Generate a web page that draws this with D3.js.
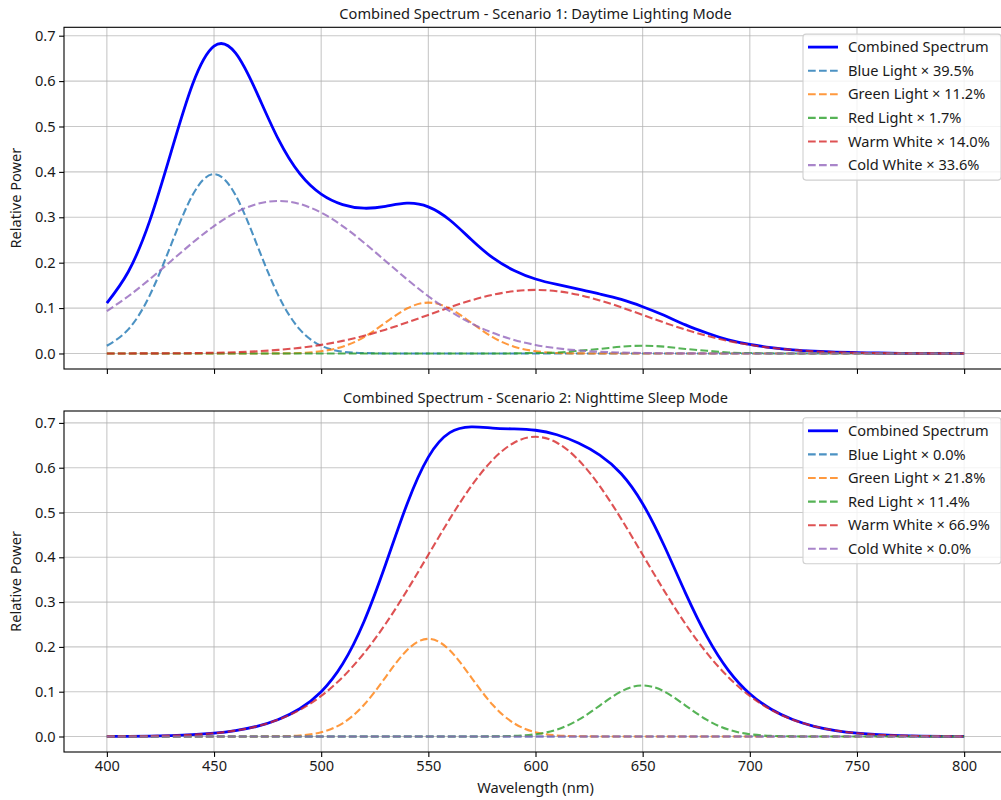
<!DOCTYPE html>
<html>
<head>
<meta charset="utf-8">
<script src="https://cdn.jsdelivr.net/npm/d3@7"></script>
<style>
  html, body { margin: 0; padding: 0; background: #fff; }
  svg { display: block; font-family: "Noto Sans", "Open Sans", sans-serif; }
</style>
</head>
<body>
<svg id="chart" width="1001" height="800"></svg>
<script>
// ---------------- DATA ----------------
const wavelengths = [400,410,420,430,440,450,460,470,480,490,500,510,520,530,540,550,560,570,580,590,600,
                     610,620,630,640,650,660,670,680,690,700,710,720,730,740,750,760,770,780,790,800];

const xTicks = [400, 450, 500, 550, 600, 650, 700, 750, 800];
const yTicks = [0.0, 0.1, 0.2, 0.3, 0.4, 0.5, 0.6, 0.7];

const seriesNames = ["Combined Spectrum", "Blue Light", "Green Light", "Red Light", "Warm White", "Cold White"];

// Scenario 1: Daytime Lighting Mode
const s1Title = "Combined Spectrum - Scenario 1: Daytime Lighting Mode";
const s1Weights = ["39.5%", "11.2%", "1.7%", "14.0%", "33.6%"];
const s1Combined = [0.111,0.180,0.292,0.444,0.593,0.677,0.662,0.574,0.472,0.396,0.351,0.328,0.320,0.324,0.331,0.323,0.294,0.251,0.211,0.183,0.164,
                    0.152,0.142,0.131,0.119,0.103,0.084,0.063,0.045,0.030,0.020,0.013,0.008,0.005,0.003,0.002,0.001,0.0004,0.0002,0.0001,0.0];
const s1Blue  = [0.017,0.053,0.128,0.240,0.349,0.395,0.349,0.240,0.128,0.053,0.017,0.004,0.001,0.0001,0,0,0,0,0,0,0,
                 0,0,0,0,0,0,0,0,0,0,0,0,0,0,0,0,0,0,0,0];
const s1Green = [0,0,0,0,0,0,0,0,0.0002,0.001,0.005,0.015,0.036,0.068,0.099,0.112,0.099,0.068,0.036,0.015,0.005,
                 0.001,0.0002,0,0,0,0,0,0,0,0,0,0,0,0,0,0,0,0,0,0];
const s1Red   = [0,0,0,0,0,0,0,0,0,0,0,0,0,0,0,0,0,0,0,0.0002,0.001,
                 0.002,0.006,0.010,0.015,0.017,0.015,0.010,0.006,0.002,0.001,0.0002,0,0,0,0,0,0,0,0,0];
const s1Warm  = [0.0,0.0001,0.0002,0.0004,0.0008,0.0016,0.0028,0.0048,0.0079,0.0124,0.0189,0.0277,0.0389,0.0525,0.0682,0.0849,0.1017,0.1169,0.1292,0.1372,0.140,
                 0.1372,0.1292,0.1169,0.1017,0.0849,0.0682,0.0525,0.0389,0.0277,0.0189,0.0124,0.0079,0.0048,0.0028,0.0016,0.0008,0.0004,0.0002,0.0001,0.0];
const s1Cold  = [0.0934,0.1261,0.1636,0.2038,0.244,0.2807,0.3102,0.3293,0.336,0.3293,0.3102,0.2807,0.244,0.2038,0.1636,0.1261,0.0934,0.0665,0.0455,0.0299,0.0188,
                 0.0114,0.0067,0.0037,0.002,0.001,0.0005,0.0002,0.0001,0,0,0,0,0,0,0,0,0,0,0,0];

// Scenario 2: Nighttime Sleep Mode
const s2Title = "Combined Spectrum - Scenario 2: Nighttime Sleep Mode";
const s2Weights = ["0.0%", "21.8%", "11.4%", "66.9%", "0.0%"];
const s2Combined = [0.0002,0.0005,0.001,0.0021,0.004,0.0074,0.0132,0.0227,0.038,0.0619,0.1001,0.1619,0.2568,0.3833,0.5181,0.6237,0.6782,0.691,0.6886,0.6866,0.6836,
                    0.6736,0.655,0.628,0.5864,0.5197,0.4263,0.3202,0.223,0.1478,0.0955,0.0608,0.0378,0.0227,0.0132,0.0074,0.004,0.0021,0.001,0.0005,0.0002];
const s2Blue  = [0,0,0,0,0,0,0,0,0,0,0,0,0,0,0,0,0,0,0,0,0,
                 0,0,0,0,0,0,0,0,0,0,0,0,0,0,0,0,0,0,0,0];
const s2Green = [0,0,0,0,0,0,0,0,0.0005,0.0024,0.0096,0.0295,0.0708,0.1322,0.1924,0.218,0.1924,0.1322,0.0708,0.0295,0.0096,
                 0.0024,0.0005,0.0001,0,0,0,0,0,0,0,0,0,0,0,0,0,0,0,0,0];
const s2Red   = [0,0,0,0,0,0,0,0,0,0,0,0,0,0,0,0,0,0,0.0003,0.0013,0.005,
                 0.0154,0.037,0.0691,0.1006,0.114,0.1006,0.0691,0.037,0.0154,0.005,0.0013,0.0003,0,0,0,0,0,0,0,0];
const s2Warm  = [0.0002,0.0005,0.001,0.0021,0.004,0.0074,0.0132,0.0227,0.0375,0.0595,0.0905,0.1324,0.186,0.2511,0.3257,0.4057,0.4858,0.5588,0.6175,0.6558,0.669,
                 0.6558,0.6175,0.5588,0.4858,0.4057,0.3257,0.2511,0.186,0.1324,0.0905,0.0595,0.0375,0.0227,0.0132,0.0074,0.004,0.0021,0.001,0.0005,0.0002];
const s2Cold  = [0,0,0,0,0,0,0,0,0,0,0,0,0,0,0,0,0,0,0,0,0,
                 0,0,0,0,0,0,0,0,0,0,0,0,0,0,0,0,0,0,0,0];

// ---------------- STYLE ----------------
const combinedColor = "#0000ff";
const componentColors = ["#1f77b4", "#ff7f0e", "#2ca02c", "#d62728", "#9467bd"];
const textColor = "#1a1a1a";
const FS = 14.6;

const svg = d3.select("#chart");

const x = d3.scaleLinear().domain([380, 820]).range([64, 1007]);

function drawPanel(cfg) {
  const { top, bottom, yDomain, title, combined, comps, weights, showXLabels } = cfg;
  const y = d3.scaleLinear().domain(yDomain).range([bottom, top]);
  const g = svg.append("g");

  const clipId = "clip" + Math.round(top);
  svg.append("clipPath").attr("id", clipId)
    .append("rect").attr("x", 64).attr("y", top).attr("width", 1007 - 64).attr("height", bottom - top);

  // grid
  const grid = g.append("g").attr("stroke", "#b0b0b0").attr("stroke-opacity", 0.7).attr("stroke-width", 1.1);
  xTicks.forEach(t => grid.append("line").attr("x1", x(t)).attr("x2", x(t)).attr("y1", top).attr("y2", bottom));
  yTicks.forEach(t => grid.append("line").attr("x1", 64).attr("x2", 1007).attr("y1", y(t)).attr("y2", y(t)));

  // lines
  const line = d3.line()
    .x((d, i) => x(wavelengths[i]))
    .y(d => y(d))
    .curve(d3.curveNatural);
  const plot = g.append("g").attr("clip-path", `url(#${clipId})`);
  plot.append("path").datum(combined)
    .attr("d", line).attr("fill", "none")
    .attr("stroke", combinedColor).attr("stroke-width", 2.8)
    .attr("stroke-linejoin", "round").attr("stroke-linecap", "butt");
  comps.forEach((arr, k) => {
    plot.append("path").datum(arr)
      .attr("d", line).attr("fill", "none")
      .attr("stroke", componentColors[k]).attr("stroke-opacity", 0.8)
      .attr("stroke-width", 2.1).attr("stroke-dasharray", "7.7,3.3");
  });

  // axes
  const xAxis = d3.axisBottom(x).tickValues(xTicks).tickSize(4.9).tickPadding(3.5)
    .tickFormat(showXLabels ? d3.format("d") : () => "");
  const xg = g.append("g").attr("transform", `translate(0,${bottom})`).call(xAxis);
  const yAxis = d3.axisLeft(y).tickValues(yTicks).tickSize(4.9).tickPadding(3.5).tickFormat(d3.format(".1f"));
  const yg = g.append("g").attr("transform", `translate(64,0)`).call(yAxis);
  [xg, yg].forEach(ax => {
    ax.select(".domain").remove();
    ax.selectAll(".tick line").attr("stroke", "#000").attr("stroke-width", 1.1);
    ax.selectAll(".tick text").attr("fill", textColor).style("font-size", FS + "px")
      .style("font-family", '"Noto Sans", sans-serif');
  });

  // spines (left, top, bottom; right lies outside canvas)
  g.append("rect").attr("x", 64).attr("y", top).attr("width", 1007 - 64).attr("height", bottom - top)
    .attr("fill", "none").attr("stroke", "#000").attr("stroke-width", 1.1);

  // title
  g.append("text").attr("x", 535.5).attr("y", top - 8)
    .attr("text-anchor", "middle").attr("fill", textColor).style("font-size", FS + "px").text(title);

  // y label
  g.append("text")
    .attr("transform", `translate(21,${(top + bottom) / 2}) rotate(-90)`)
    .attr("text-anchor", "middle").attr("fill", textColor).style("font-size", FS + "px").text("Relative Power");

  // legend
  const lx = 803, ly = top + 6.8, lw = 198, rowH = 23.6;
  const lg = g.append("g");
  lg.append("rect").attr("x", lx).attr("y", ly).attr("width", lw).attr("height", 146).attr("rx", 3)
    .attr("fill", "#fff").attr("fill-opacity", 0.8).attr("stroke", "#d0d0d0").attr("stroke-width", 1.1);
  seriesNames.forEach((name, i) => {
    const cy = ly + 13 + i * rowH;
    const isComb = i === 0;
    lg.append("line").attr("x1", 808).attr("x2", 838).attr("y1", cy).attr("y2", cy)
      .attr("stroke", isComb ? combinedColor : componentColors[i - 1])
      .attr("stroke-opacity", isComb ? 1 : 0.8)
      .attr("stroke-width", isComb ? 2.8 : 2.1)
      .attr("stroke-dasharray", isComb ? null : "7.7,3.3");
    lg.append("text").attr("x", 848).attr("y", cy).attr("dy", "0.35em")
      .attr("fill", textColor).style("font-size", FS + "px")
      .text(isComb ? name : `${name} \u00d7 ${weights[i - 1]}`);
  });
}

drawPanel({
  top: 27.3, bottom: 369, yDomain: [-0.0342, 0.7185], title: s1Title,
  combined: s1Combined, comps: [s1Blue, s1Green, s1Red, s1Warm, s1Cold], weights: s1Weights, showXLabels: false
});
drawPanel({
  top: 411, bottom: 752, yDomain: [-0.0346, 0.7266], title: s2Title,
  combined: s2Combined, comps: [s2Blue, s2Green, s2Red, s2Warm, s2Cold], weights: s2Weights, showXLabels: true
});

svg.append("text").attr("x", 535.5).attr("y", 793)
  .attr("text-anchor", "middle").attr("fill", textColor).style("font-size", FS + "px").text("Wavelength (nm)");
</script>
</body>
</html>
